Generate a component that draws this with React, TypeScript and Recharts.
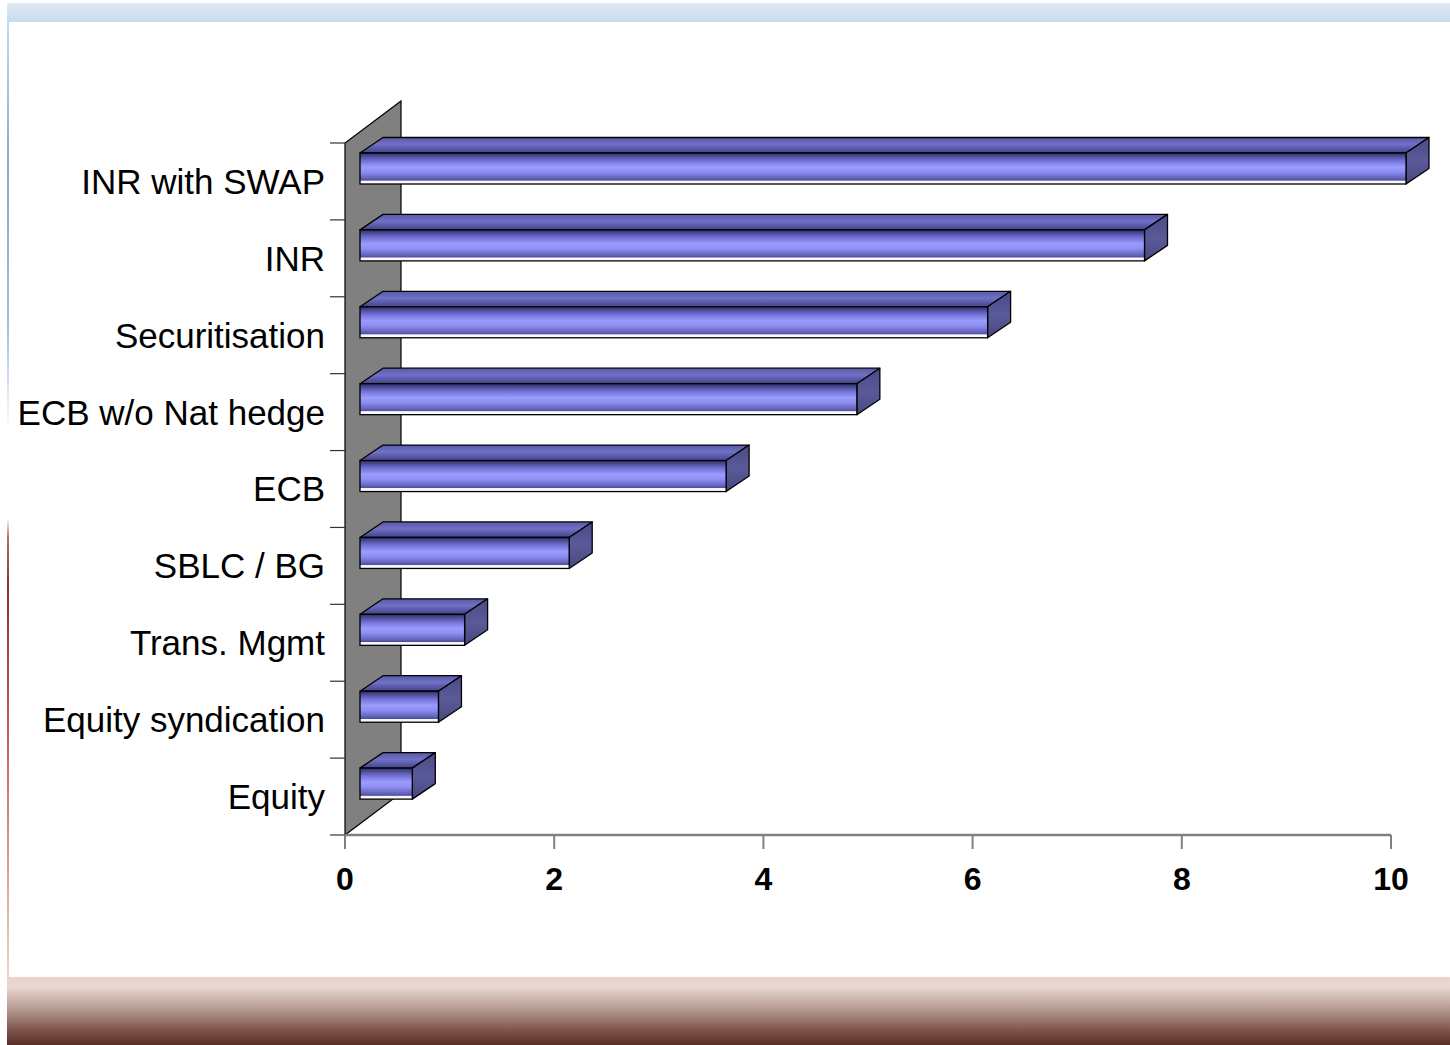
import React from 'react';
import { BarChart, Bar, XAxis, YAxis, ReferenceArea } from 'recharts';

const categories = [
  'INR with SWAP',
  'INR',
  'Securitisation',
  'ECB w/o Nat hedge',
  'ECB',
  'SBLC / BG',
  'Trans. Mgmt',
  'Equity syndication',
  'Equity',
];
const values = [10, 7.5, 6, 4.75, 3.5, 2, 1, 0.75, 0.5];
const xTicks = [0, 2, 4, 6, 8, 10];

const data = categories.map((name, i) => ({ name, value: values[i] }));

const FONT = '"Liberation Sans", Arial, Helvetica, sans-serif';

// 3D projection offsets (pixels)
const FRONT_DX = 15;
const FRONT_DY = -13;
const DEPTH_DX = 23;
const DEPTH_DY = -15.5;
const WALL_DX = 56;
const WALL_DY = -42;

const Bar3D = (props: any) => {
  const { x, y, width, height } = props;
  if (width == null || height == null) return null;
  const x0 = x + FRONT_DX;
  const y0 = y + FRONT_DY;
  const x1 = x0 + width;
  const y1 = y0 + height;
  const top = `${x0},${y0} ${x0 + DEPTH_DX},${y0 + DEPTH_DY} ${x1 + DEPTH_DX},${y0 + DEPTH_DY} ${x1},${y0}`;
  const side = `${x1},${y0} ${x1 + DEPTH_DX},${y0 + DEPTH_DY} ${x1 + DEPTH_DX},${y1 + DEPTH_DY} ${x1},${y1}`;
  return (
    <g>
      <polygon points={top} fill="url(#topGrad)" stroke="#000" strokeWidth={1.3} strokeLinejoin="round" />
      <polygon points={side} fill="url(#sideGrad)" stroke="#000" strokeWidth={1.3} strokeLinejoin="round" />
      <rect x={x0} y={y0} width={width} height={height} fill="url(#frontGrad)" stroke="#000" strokeWidth={1.3} />
    </g>
  );
};

const Wall = (props: any) => {
  const { x, y, width, height } = props;
  if (x == null || y == null) return null;
  const n = categories.length;
  const pts = `${x},${y + height} ${x},${y} ${x + WALL_DX},${y + WALL_DY} ${x + WALL_DX},${y + height + WALL_DY}`;
  const ticks = [];
  for (let i = 0; i <= n; i++) {
    const ty = y + (height * i) / n;
    ticks.push(<line key={i} x1={x - 15} y1={ty} x2={x} y2={ty} stroke="#333" strokeWidth={1.2} />);
  }
  return (
    <g>
      <polygon points={pts} fill="#808080" stroke="#000" strokeWidth={1.2} />
      {ticks}
    </g>
  );
};

export default function App() {
  return (
    <div style={{ position: 'absolute', left: 0, top: 0, width: 1450, height: 1045, background: '#fff', overflow: 'hidden' }}>
      <svg width={0} height={0} style={{ position: 'absolute' }}>
        <defs>
          <linearGradient id="frontGrad" x1="0" y1="0" x2="0" y2="1">
            <stop offset="0" stopColor="#2c2c5e" />
            <stop offset="0.08" stopColor="#45458c" />
            <stop offset="0.25" stopColor="#7272d6" />
            <stop offset="0.45" stopColor="#9c9cff" />
            <stop offset="0.62" stopColor="#8c8cf2" />
            <stop offset="0.82" stopColor="#6262b8" />
            <stop offset="0.88" stopColor="#4e4e9a" />
            <stop offset="0.9" stopColor="#f4f4ff" />
            <stop offset="1" stopColor="#ffffff" />
          </linearGradient>
          <linearGradient id="topGrad" x1="0" y1="0" x2="0" y2="1">
            <stop offset="0" stopColor="#5a5aa8" />
            <stop offset="0.45" stopColor="#7070c6" />
            <stop offset="1" stopColor="#42428a" />
          </linearGradient>
          <linearGradient id="sideGrad" x1="0" y1="0" x2="0" y2="1">
            <stop offset="0" stopColor="#4a4a86" />
            <stop offset="0.5" stopColor="#5a5a9a" />
            <stop offset="1" stopColor="#48487e" />
          </linearGradient>
        </defs>
      </svg>
      {/* frame */}
      <div style={{ position: 'absolute', left: 7, top: 3, width: 1443, height: 19, background: 'linear-gradient(#dde9f3, #c7dbeb)' }} />
      <div
        style={{
          position: 'absolute',
          left: 7,
          top: 22,
          width: 2,
          height: 955,
          background:
            'linear-gradient(to bottom, #c6d9ea 0%, #8ea6c8 15%, #a8bdd8 32%, #e8eef6 40%, #ffffff 43%, #ffffff 52%, #b07070 54%, #8b3232 59%, #a84444 66%, #c45c5c 74%, #d89890 87%, #ead4cc 100%)',
        }}
      />
      <div
        style={{
          position: 'absolute',
          left: 7,
          top: 977,
          width: 1443,
          height: 68,
          background: 'linear-gradient(to bottom, #e8d4cd 0%, #e9d7d0 15%, #c9b1aa 35%, #a07f77 60%, #7a5047 80%, #5a2e24 100%)',
        }}
      />
      <div style={{ position: 'absolute', left: 0, top: 0 }}>
        <BarChart
          width={1450}
          height={1045}
          data={data}
          layout="vertical"
          margin={{ top: 143, right: 59, bottom: 150, left: 0 }}
          barSize={31}
        >
          <XAxis
            type="number"
            domain={[0, 10]}
            ticks={xTicks}
            height={60}
            axisLine={{ stroke: '#808080', strokeWidth: 2.5 }}
            tickLine={{ stroke: '#808080', strokeWidth: 2 }}
            tickSize={14}
            tickMargin={18}
            tick={{ fill: '#000', fontSize: 32, fontWeight: 'bold', fontFamily: FONT }}
          />
          <YAxis
            type="category"
            dataKey="name"
            width={345}
            axisLine={false}
            tickLine={false}
            tickSize={20}
            tickMargin={0}
            interval={0}
            tick={{ fill: '#000', fontSize: 35, fontFamily: FONT }}
          />
          <ReferenceArea x1={0} x2={10} shape={Wall} ifOverflow="visible" />
          <Bar dataKey="value" shape={Bar3D} isAnimationActive={false} />
        </BarChart>
      </div>
    </div>
  );
}
